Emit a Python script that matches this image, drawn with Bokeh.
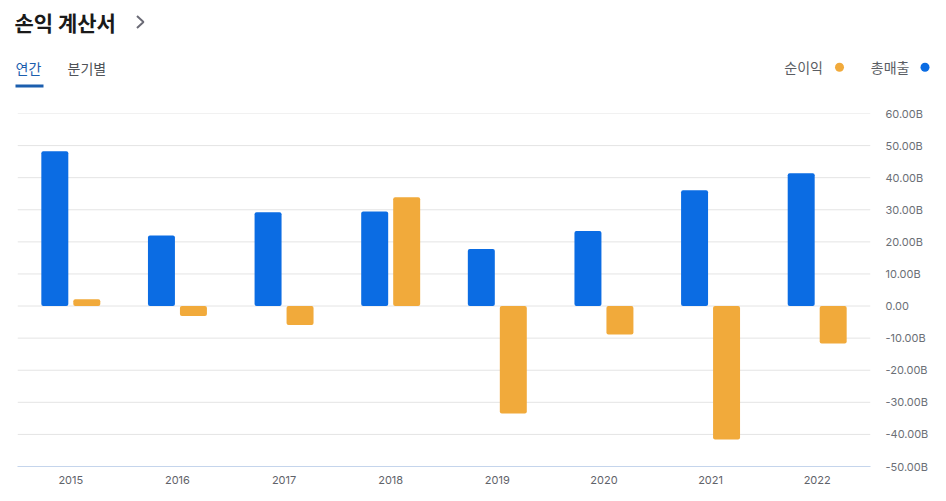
from bokeh.plotting import figure
from bokeh.models import (ColumnDataSource, FactorRange, LinearAxis, FixedTicker,
                          Span, Range1d)
from bokeh.layouts import column
from bokeh.core.properties import value
from bokeh.transform import dodge
from bokeh.embed import file_html
from bokeh.resources import INLINE

years = ["2015", "2016", "2017", "2018", "2019", "2020", "2021", "2022"]
revenue = [48.2, 22.0, 29.2, 29.5, 17.8, 23.4, 36.1, 41.4]        # 총매출 (B)
net_income = [2.1, -3.1, -5.9, 33.9, -33.5, -8.9, -41.6, -11.7]    # 순이익 (B)
tick_values = [60, 50, 40, 30, 20, 10, 0, -10, -20, -30, -40, -50]
tick_labels = ["60.00B", "50.00B", "40.00B", "30.00B", "20.00B", "10.00B", "0.00",
               "-10.00B", "-20.00B", "-30.00B", "-40.00B", "-50.00B"]
series_names = ["순이익", "총매출"]
title_text = "손익 계산서"
tabs = ["연간", "분기별"]

BLUE = "#0b6ce3"
ORANGE = "#f1aa3b"
KR = "Noto Sans CJK KR"
NUM = "Inter"

W = 946
HEAD_H = 100
CH_H = 401
left, right = 17, 870
top, bottom = 13, 366

# ---------------- header ----------------
head = figure(width=W, height=HEAD_H, x_range=Range1d(0, W), y_range=Range1d(HEAD_H, 0),
              output_backend="svg", toolbar_location=None, min_border=0,
              min_border_left=0, min_border_right=0, min_border_top=0, min_border_bottom=0,
              x_axis_location=None, y_axis_location=None, outline_line_color=None,
              frame_align=False)
head.grid.visible = False

head.text(x=[14], y=[21], text=[title_text], text_font=value(KR), text_font_size="21px",
          text_font_style="bold", text_color="#1a1a1a", text_baseline="middle")
# chevron icon
head.line(x=[136.5, 143, 136.5], y=[15.5, 21.5, 27.5], line_color="#6b6b76", line_width=2)
head.text(x=[15, 67], y=[67.5, 67.5], text=tabs, text_font=value(KR), text_font_size="14px",
          text_color=["#1b5eae", "#4f5257"], text_baseline="middle")
head.quad(left=[15], right=[43], top=[84], bottom=[87], fill_color="#1b5eae", line_color=None)
head.text(x=[822.5, 909], y=[66, 66], text=series_names, text_font=value(KR),
          text_font_size="14px", text_color="#5a5d63", text_baseline="middle",
          text_align="right")
head.scatter(x=[839, 924.5], y=[66.7, 66.7], size=9, marker="circle",
             fill_color=[ORANGE, BLUE], line_color=None)

# ---------------- chart ----------------
src = ColumnDataSource(dict(year=years, revenue=revenue, net=net_income))

p = figure(width=W, height=CH_H, x_range=FactorRange(*years, range_padding=0),
           y_range=(-50, 60), output_backend="svg", toolbar_location=None,
           min_border_left=left, min_border_right=W - right,
           min_border_top=top, min_border_bottom=CH_H - bottom,
           y_axis_location=None, outline_line_color=None, frame_align=False)

p.ygrid.grid_line_color = None
p.xgrid.grid_line_color = None
for v in tick_values:
    if v == -50:
        continue
    p.add_layout(Span(location=v, dimension="width", line_color="#e4e4e4", line_width=1,
                      level="underlay"))

p.vbar(x=dodge("year", -0.15, range=p.x_range), top="revenue", bottom=0, width=0.253,
       source=src, fill_color=BLUE, line_color=None, border_radius=2)
p.vbar(x=dodge("year", 0.15, range=p.x_range), top="net", bottom=0, width=0.253,
       source=src, fill_color=ORANGE, line_color=None, border_radius=2)

yaxis = LinearAxis(ticker=FixedTicker(ticks=tick_values),
                   major_label_overrides={v: l for v, l in zip(tick_values, tick_labels)})
yaxis.axis_line_color = None
yaxis.major_tick_line_color = None
yaxis.major_tick_out = 0
yaxis.major_tick_in = 0
yaxis.minor_tick_line_color = None
yaxis.major_label_text_font = NUM
yaxis.major_label_text_font_size = "11px"
yaxis.major_label_text_color = "#6b6f76"
yaxis.major_label_standoff = 15
p.add_layout(yaxis, "right")

xa = p.xaxis[0]
xa.axis_line_color = "#c5d5ec"
xa.axis_line_width = 1
xa.major_tick_line_color = None
xa.major_tick_out = 0
xa.major_tick_in = 0
xa.minor_tick_line_color = None
xa.major_label_text_font = NUM
xa.major_label_text_font_size = "11px"
xa.major_label_text_color = "#5f636a"
xa.major_label_standoff = 9

layout = column(head, p, spacing=0)
open("out.html", "w").write(file_html(layout, INLINE))
